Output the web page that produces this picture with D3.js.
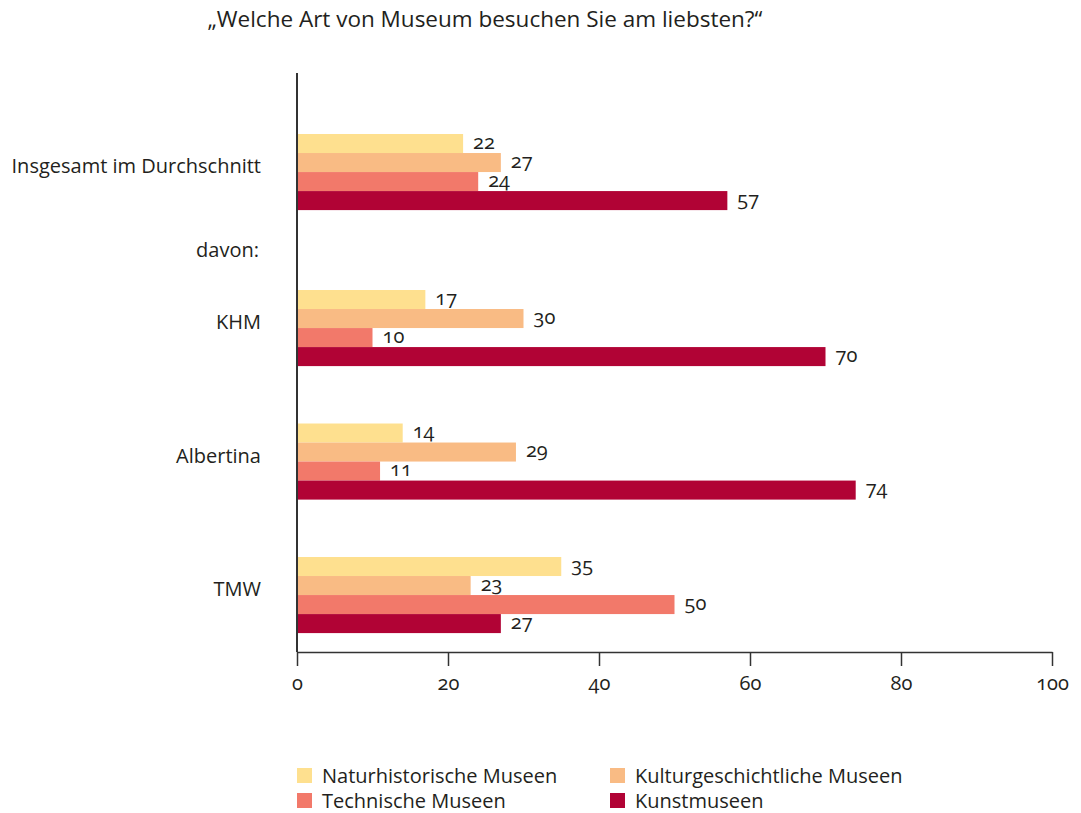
<!DOCTYPE html>
<html>
<head>
<meta charset="utf-8">
<script src="https://cdn.jsdelivr.net/npm/d3@7"></script>
<style>
  body { margin: 0; background: #fff; }
  text { font-family: "Open Sans", sans-serif; fill: #231f20; font-variant-numeric: oldstyle-nums; }
</style>
</head>
<body>
<script>
const width = 1081;
const height = 813;

const titel = "„Welche Art von Museum besuchen Sie am liebsten?“";
const gesamt = ["Insgesamt im Durchschnitt"];
const museen = ["KHM", "Albertina", "TMW"];
const trennText = "davon:";
const serien = ["Naturhistorische Museen", "Kulturgeschichtliche Museen", "Technische Museen", "Kunstmuseen"];
const farben = ["#fee08f", "#f9bb84", "#f2796a", "#b10335"];

// Werte je Serie, Reihenfolge wie gesamt + museen
const naturhistorisch = [22, 17, 14, 35];
const kulturgeschichtlich = [27, 30, 29, 23];
const technisch = [24, 10, 11, 50];
const kunst = [57, 70, 74, 27];
const xTicks = [0, 20, 40, 60, 80, 100];

const reihen = gesamt.concat(museen);
const werte = [naturhistorisch, kulturgeschichtlich, technisch, kunst];
const datos = reihen.map((r, i) => ({
  reihe: r,
  balken: serien.map((s, j) => ({ serie: s, wert: werte[j][i] })),
}));

const margin = { left: 297, right: 29 };
const achseY = 652;

const svg = d3.select("body").append("svg")
  .attr("width", width)
  .attr("height", height);

const x = d3.scaleLinear().domain([0, 100]).range([margin.left, width - margin.right]);

// zwei Bereiche: Gesamt oben, darunter die einzelnen Museen
const yGesamt = d3.scaleBand().domain(gesamt).range([76.6, 267.5]).padding(0.43);
const yMuseen = d3.scaleBand().domain(museen).range([232.6, 690.5]).padding(0.43);
const yPos = (r) => (gesamt.includes(r) ? yGesamt(r) : yMuseen(r));

const yInnen = d3.scaleBand().domain(serien).range([0, yMuseen.bandwidth()]);
const farbe = d3.scaleOrdinal().domain(serien).range(farben);

svg.append("text")
  .attr("x", 485)
  .attr("y", 27)
  .attr("text-anchor", "middle")
  .attr("font-size", 22.5)
  .text(titel);

const gruppen = svg.selectAll("g.gruppe")
  .data(datos)
  .join("g")
  .attr("class", "gruppe")
  .attr("transform", (d) => `translate(0, ${yPos(d.reihe)})`);

gruppen.selectAll("rect")
  .data((d) => d.balken)
  .join("rect")
  .attr("x", x(0))
  .attr("y", (d) => yInnen(d.serie))
  .attr("width", (d) => x(d.wert) - x(0))
  .attr("height", yInnen.bandwidth())
  .attr("fill", (d) => farbe(d.serie));

gruppen.selectAll("text.wert")
  .data((d) => d.balken)
  .join("text")
  .attr("class", "wert")
  .attr("x", (d) => x(d.wert) + 10)
  .attr("y", (d) => yInnen(d.serie) + yInnen.bandwidth() / 2)
  .attr("dy", "0.25em")
  .attr("font-size", 20)
  .text((d) => d.wert);

gruppen.append("text")
  .attr("x", 261)
  .attr("y", yMuseen.bandwidth() / 2 - 6)
  .attr("dy", "0.35em")
  .attr("text-anchor", "end")
  .attr("font-size", 20)
  .text((d) => d.reihe);

svg.append("text")
  .attr("x", 259)
  .attr("y", (yGesamt(gesamt[0]) + yGesamt.bandwidth() + yMuseen(museen[0])) / 2)
  .attr("dy", "0.35em")
  .attr("text-anchor", "end")
  .attr("font-size", 20)
  .text(trennText);

// Achsen
svg.append("line")
  .attr("x1", x(0)).attr("x2", x(0))
  .attr("y1", 73).attr("y2", achseY)
  .attr("stroke", "#333").attr("stroke-width", 2);

const ejeX = d3.axisBottom(x).tickValues(xTicks).tickSize(14).tickPadding(10).tickSizeOuter(0);
const gx = svg.append("g").attr("transform", `translate(0, ${achseY})`).call(ejeX);
gx.select(".domain").attr("stroke", "#333").attr("stroke-width", 1.5);
gx.selectAll("line").attr("stroke", "#333").attr("stroke-width", 1.5);
gx.selectAll("text").attr("font-size", 20).attr("fill", "#231f20").attr("font-family", "'Open Sans', sans-serif");

// Legende
const legende = svg.selectAll("g.legende")
  .data(serien)
  .join("g")
  .attr("class", "legende")
  .attr("transform", (d, i) => `translate(${i % 2 === 0 ? 297 : 610}, ${i < 2 ? 768 : 793})`);

legende.append("rect")
  .attr("width", 15).attr("height", 15)
  .attr("fill", (d) => farbe(d));

legende.append("text")
  .attr("x", 25)
  .attr("y", 8)
  .attr("dy", "0.35em")
  .attr("font-size", 20)
  .text((d) => d);
</script>
</body>
</html>
